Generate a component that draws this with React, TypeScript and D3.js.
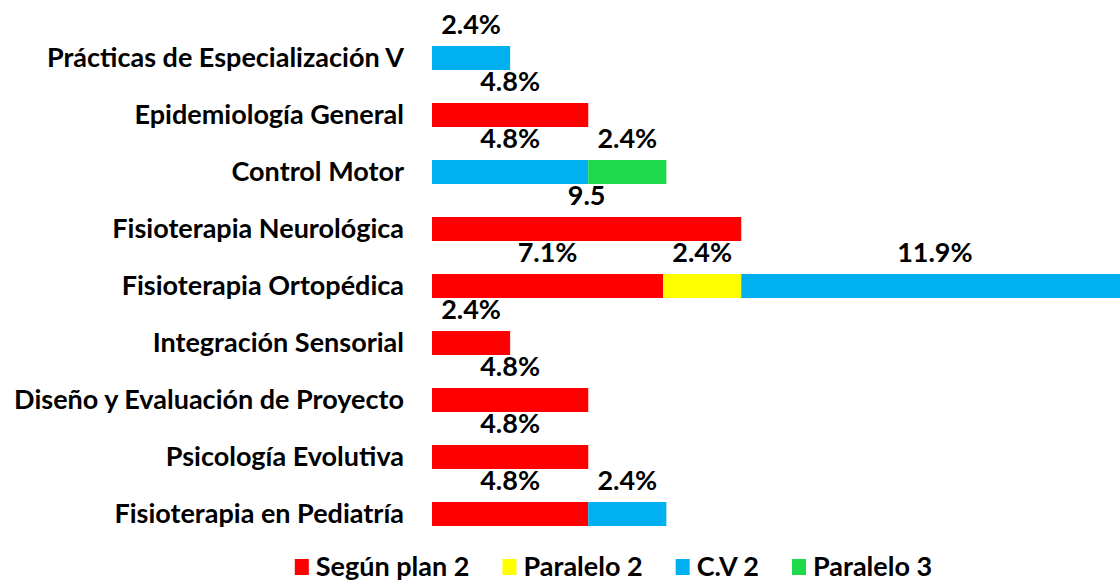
import { useEffect, useRef } from "react"
import * as d3 from "d3"

// Rows, top to bottom
const categories = [
  "Prácticas de Especialización V",
  "Epidemiología General",
  "Control Motor",
  "Fisioterapia Neurológica",
  "Fisioterapia Ortopédica",
  "Integración Sensorial",
  "Diseño y Evaluación de Proyecto",
  "Psicología Evolutiva",
  "Fisioterapia en Pediatría",
]

const seriesNames = ["Según plan 2", "Paralelo 2", "C.V 2", "Paralelo 3"]
const seriesColors = ["#ff0000", "#ffff00", "#00b0f0", "#1ed94a"]

// values per series, same order as categories (0 = no segment)
const segunPlan2 = [0, 4.8, 0, 9.5, 7.1, 2.4, 4.8, 4.8, 4.8]
const paralelo2 = [0, 0, 0, 0, 2.4, 0, 0, 0, 0]
const cv2 = [2.4, 0, 4.8, 0, 11.9, 0, 0, 0, 2.4]
const paralelo3 = [0, 0, 2.4, 0, 0, 0, 0, 0, 0]

// label texts as shown (the 9.5 label has no percent sign)
const segunPlan2Labels = ["", "4.8%", "", "9.5", "7.1%", "2.4%", "4.8%", "4.8%", "4.8%"]

const W = 1120
const H = 581

export default function App() {
  const svgRef = useRef<SVGSVGElement>(null)

  useEffect(() => {
    if (!svgRef.current) return
    const svg = d3.select(svgRef.current)
    svg.selectAll("*").remove()

    const font = "Lato, 'Open Sans', sans-serif"
    const fontSize = 27
    const series = [segunPlan2, paralelo2, cv2, paralelo3]

    const x = d3.scaleLinear().domain([0, 21.4]).range([432, 1128.6])
    const y = d3.scalePoint<string>().domain(categories).range([58, 514])
    const barH = 24

    // stacked rows
    const rows = categories.map((c, i) => {
      let acc = 0
      return series.map((s, k) => {
        const seg = { cat: c, k, x0: acc, x1: acc + s[i], v: s[i] }
        acc += s[i]
        return seg
      })
    })

    const g = svg.append("g")

    rows.forEach((segs, i) => {
      segs
        .filter((d) => d.v > 0)
        .forEach((d) => {
          g.append("rect")
            .attr("x", x(d.x0))
            .attr("y", (y(d.cat) as number) - barH / 2)
            .attr("width", x(d.x1) - x(d.x0))
            .attr("height", barH)
            .attr("fill", seriesColors[d.k])

          const label = d.k === 0 ? segunPlan2Labels[i] : d.v.toFixed(1) + "%"
          g.append("text")
            .attr("x", (x(d.x0) + x(d.x1)) / 2)
            .attr("y", (y(d.cat) as number) - barH / 2 - 12)
            .attr("text-anchor", "middle")
            .attr("font-family", font)
            .attr("font-weight", "bold")
            .attr("font-size", fontSize)
            .attr("fill", "#000")
            .text(label)
        })
    })

    // category labels
    g.selectAll(".cat")
      .data(categories)
      .enter()
      .append("text")
      .attr("x", 404)
      .attr("y", (d) => y(d) as number)
      .attr("dy", "0.35em")
      .attr("text-anchor", "end")
      .attr("font-family", font)
      .attr("font-weight", "bold")
      .attr("font-size", fontSize)
      .attr("fill", "#000")
      .text((d) => d)

    // legend
    const legend = svg.append("g")
    let lx = 0
    seriesNames.forEach((name, k) => {
      const item = legend.append("g").attr("transform", `translate(${lx},0)`)
      item.append("rect").attr("x", 0).attr("y", -8).attr("width", 14).attr("height", 16).attr("fill", seriesColors[k])
      const t = item
        .append("text")
        .attr("x", 21)
        .attr("dy", "0.35em")
        .attr("font-family", font)
        .attr("font-weight", "bold")
        .attr("font-size", fontSize)
        .attr("fill", "#000")
        .text(name)
      const tw = (t.node() as SVGTextElement).getComputedTextLength()
      lx += 21 + tw + 33
    })
    const legendW = lx - 33
    legend.attr("transform", `translate(${(290 + 937) / 2 - legendW / 2},567)`)
  }, [])

  return (
    <div style={{ position: "fixed", left: 0, top: 0, width: W, height: H, background: "#fff" }}>
      <svg ref={svgRef} width={W} height={H} style={{ display: "block", overflow: "hidden" }} />
    </div>
  )
}
